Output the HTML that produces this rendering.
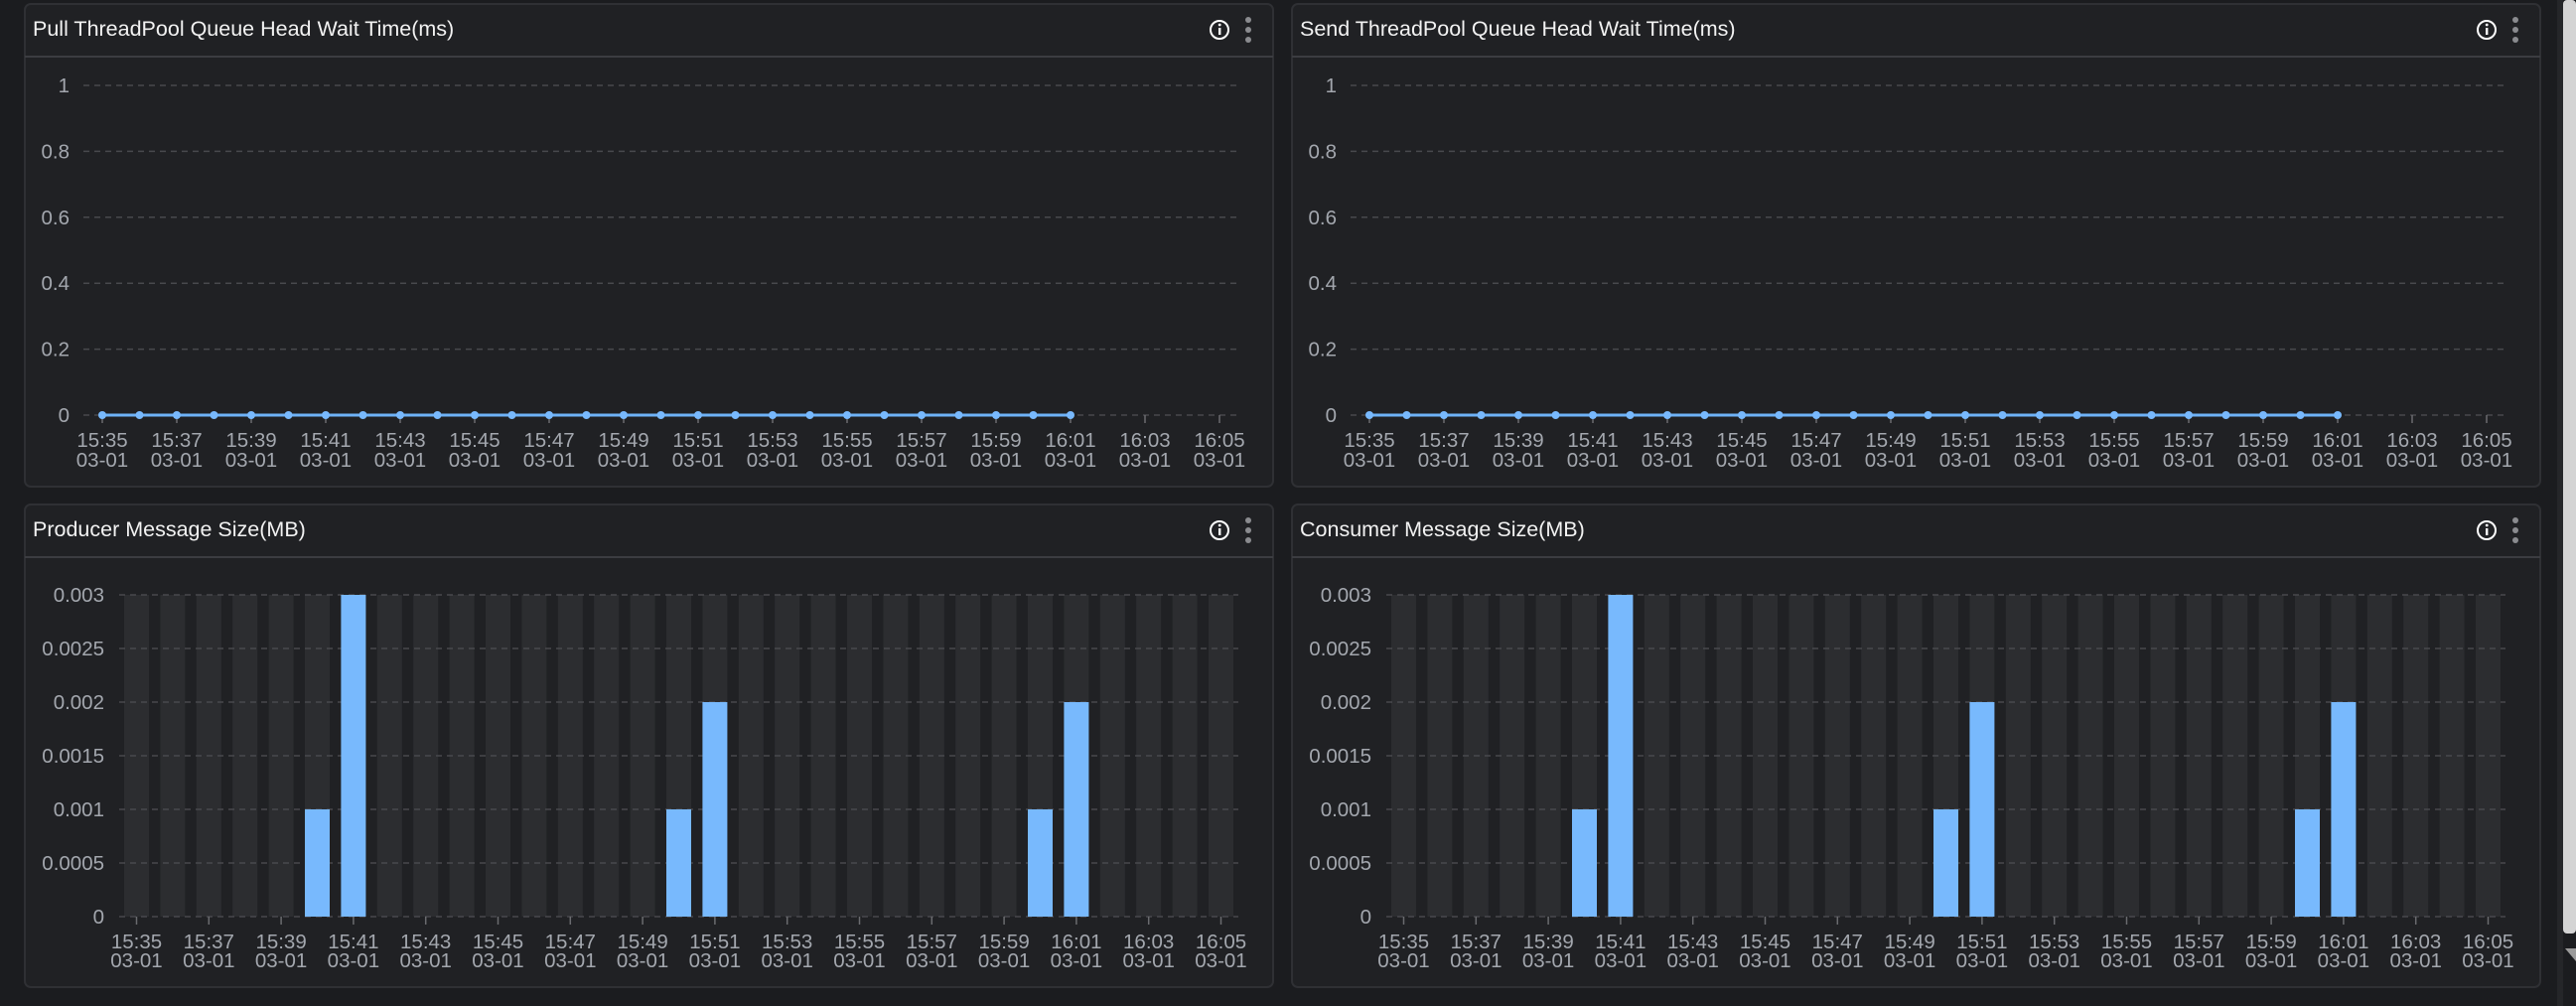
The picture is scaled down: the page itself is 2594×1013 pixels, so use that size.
<!DOCTYPE html>
<html><head><meta charset="utf-8"><style>
html,body{margin:0;padding:0;background:#1b1c1f;width:2594px;height:1013px;overflow:hidden}
svg{position:absolute;left:0;top:0}
text{font-family:"Liberation Sans",sans-serif}
</style></head><body>
<svg id="s" width="2594" height="1013" xmlns="http://www.w3.org/2000/svg"></svg>
<script>
const s=document.getElementById('s');let h='';
h+='<rect x="2575" y="0" width="6" height="1013" fill="#252629"/><rect x="2581" y="0" width="13" height="940" rx="4" fill="#d4d4d4"/><polygon points="2583,955 2594,955 2594,968" fill="#9a9a9a"/>';
const times=[];for(let i=0;i<=30;i++){const m=35+i;const hh=m>=60?16:15;const mm=m%60;times.push(hh+':'+String(mm).padStart(2,'0'));}
function panel(ox,oy,title){
 h+=`<rect x="${ox+25}" y="${oy+4}" width="1257" height="${486}" rx="6" fill="#202124" stroke="#2f3034" stroke-width="2"/>`;
 h+=`<line x1="${ox+25}" y1="${oy+57}" x2="${ox+1282}" y2="${oy+57}" stroke="#3c3d41" stroke-width="2"/>`;
 h+=`<text x="${ox+33}" y="${oy+36}" fill="#f2f2f2" font-size="21.5">${title}</text>`;
 h+=`<circle cx="${ox+1228}" cy="${oy+30}" r="9" fill="none" stroke="#fff" stroke-width="2"/><rect x="${ox+1227}" y="${oy+28}" width="2.4" height="7" fill="#fff"/><circle cx="${ox+1228.2}" cy="${oy+25}" r="1.4" fill="#fff"/>`;
 for(let k=0;k<3;k++)h+=`<circle cx="${ox+1257}" cy="${oy+20+k*10}" r="3" fill="#8a8b8f"/>`;
}
[0,1276].forEach((ox,pi)=>{
 panel(ox,0,pi?'Send ThreadPool Queue Head Wait Time(ms)':'Pull ThreadPool Queue Head Wait Time(ms)');
 const labs=['1','0.8','0.6','0.4','0.2','0'];
 labs.forEach((l,i)=>{const y=86+i*66.4;
  h+=`<line x1="${ox+84}" y1="${y}" x2="${ox+1247}" y2="${y}" stroke="#48494d" stroke-width="1.5" stroke-dasharray="6,5"/>`;
  h+=`<text x="${ox+70}" y="${y+7}" fill="#a3a7ae" font-size="20.5" text-anchor="end">${l}</text>`;});
 for(let i=0;i<=30;i+=2){const x=ox+103+i*37.5;
  h+=`<line x1="${x}" y1="418" x2="${x}" y2="426" stroke="#6a6b6f" stroke-width="1.5"/>`;
  h+=`<text x="${x}" y="450" fill="#a3a7ae" font-size="20.5" text-anchor="middle">${times[i]}</text><text x="${x}" y="470" fill="#a3a7ae" font-size="20.5" text-anchor="middle">03-01</text>`;}
 h+=`<line x1="${ox+103}" y1="418" x2="${ox+103+26*37.5}" y2="418" stroke="#6eb2f7" stroke-width="3"/>`;
 for(let i=0;i<=26;i++)h+=`<circle cx="${ox+103+i*37.5}" cy="418" r="4" fill="#78b9fd"/>`;
});
const vals={5:1,6:3,15:1,16:2,25:1,26:2};
[0,1276].forEach((ox,pi)=>{
 panel(ox,504,pi?'Consumer Message Size(MB)':'Producer Message Size(MB)');
 const labs=['0.003','0.0025','0.002','0.0015','0.001','0.0005','0'];
 for(let i=0;i<31;i++){const cx=ox+137.5+i*36.4;h+=`<rect x="${cx-12.5}" y="599" width="25" height="324" fill="#2c2d30"/>`;}
 labs.forEach((l,i)=>{const y=599+i*54;
  h+=`<line x1="${ox+120}" y1="${y}" x2="${ox+1247}" y2="${y}" stroke="#48494d" stroke-width="1.5" stroke-dasharray="6,5"/>`;
  h+=`<text x="${ox+105}" y="${y+7}" fill="#a3a7ae" font-size="20.5" text-anchor="end">${l}</text>`;});
 for(const k in vals){const cx=ox+137.5+k*36.4;const hh=vals[k]*108;h+=`<rect x="${cx-12.5}" y="${923-hh}" width="25" height="${hh}" fill="#78b9fd"/>`;}
 for(let i=0;i<=30;i+=2){const x=ox+137.5+i*36.4;
  h+=`<line x1="${x}" y1="923" x2="${x}" y2="931" stroke="#6a6b6f" stroke-width="1.5"/>`;
  h+=`<text x="${x}" y="955" fill="#a3a7ae" font-size="20.5" text-anchor="middle">${times[i]}</text><text x="${x}" y="974" fill="#a3a7ae" font-size="20.5" text-anchor="middle">03-01</text>`;}
});
s.innerHTML=h;
</script>
</body></html>
